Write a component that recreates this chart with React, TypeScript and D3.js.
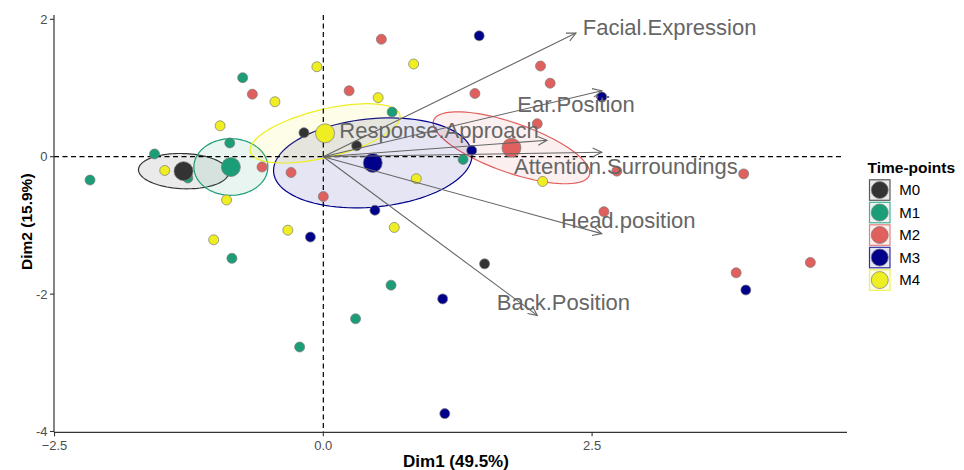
import React from 'react';
import * as d3 from 'd3';

// groups and colours
const groups = ['M0', 'M1', 'M2', 'M3', 'M4'];
const groupColors = ['#333333', '#1B9E77', '#E0605E', '#00008B', '#EEEE22'];

// individual points per group, [Dim1, Dim2]
const m0Points: [number, number][] = [
  [-0.18, 0.35], [0.31, 0.16], [1.5, -1.56],
];
const m1Points: [number, number][] = [
  [-0.75, 1.15], [-0.87, 0.2], [-1.57, 0.04], [-1.26, -0.31], [-2.17, -0.34],
  [0.64, 0.65], [1.3, -0.04], [-0.85, -1.48], [0.63, -1.87], [0.3, -2.36], [-0.22, -2.77],
];
const m2Points: [number, number][] = [
  [-0.66, 0.91], [0.54, 1.71], [0.24, 0.96], [2.02, 1.32], [2.11, 1.07], [1.41, 0.92],
  [1.99, 0.48], [-0.57, -0.15], [-0.3, -0.23], [0.0, -0.58], [2.73, -0.21], [2.61, -0.8],
  [3.91, -0.25], [3.84, -1.69], [4.53, -1.54],
];
const m3Points: [number, number][] = [
  [1.45, 1.76], [2.59, 0.87], [1.38, 0.09], [0.48, -0.78], [-0.12, -1.17],
  [1.11, -2.07], [1.13, -3.74], [3.93, -1.94],
];
const m4Points: [number, number][] = [
  [-0.06, 1.31], [0.84, 1.35], [-0.45, 0.8], [0.51, 0.86], [-0.96, 0.45], [-1.475, -0.2],
  [-0.9, -0.63], [0.865, -0.32], [2.04, -0.36], [0.66, -1.03], [-0.33, -1.07], [-1.02, -1.21],
];
const groupPoints = [m0Points, m1Points, m2Points, m3Points, m4Points];

// group means (also ellipse centres)
const centroidX = [-1.3, -0.86, 1.75, 0.46, 0.016];
const centroidY = [-0.21, -0.15, 0.13, -0.09, 0.34];

// confidence ellipses: half extents along Dim1 / Dim2 and correlation
const ellipseSx = [0.419, 0.344, 0.728, 0.923, 0.698];
const ellipseSy = [0.257, 0.412, 0.524, 0.655, 0.432];
const ellipseR = [-0.08, 0.0, -0.69, 0.17, 0.56];

// variable arrows
const varNames = ['Facial.Expression', 'Ear.Position', 'Response.Approach', 'Attention.Surroundings', 'Head.position', 'Back.Position'];
const varX = [2.35, 2.59, 2.08, 2.59, 2.59, 1.99];
const varY = [1.8, 0.96, 0.24, 0.065, -1.12, -2.31];
const labelX = [2.413, 1.805, 0.149, 1.774, 2.211, 1.613];
const labelY = [1.771, 0.655, 0.268, -0.252, -1.04, -2.23];

const xTicks = [-2.5, 0, 2.5];
const yTicks = [-4, -2, 0, 2];

const W = 964;
const H = 470;
const left = 54;
const right = 847;
const top = 15;
const bottom = 432.3;

const font = 'Liberation Sans, Arial, sans-serif';

export default function App() {
  const x = d3.scaleLinear().domain([-2.505, 4.871]).range([left, right]);
  const y = d3.scaleLinear().domain([-4.012, 2.063]).range([bottom, top]);

  const ellipsePath = (i: number) => {
    const pts: [number, number][] = d3.range(0, 100).map((k) => {
      const t = (k / 100) * 2 * Math.PI;
      const r = ellipseR[i];
      const ex = centroidX[i] + ellipseSx[i] * Math.cos(t);
      const ey = centroidY[i] + ellipseSy[i] * (r * Math.cos(t) + Math.sqrt(1 - r * r) * Math.sin(t));
      return [x(ex), y(ey)];
    });
    return d3.line().curve(d3.curveLinearClosed)(pts) || '';
  };

  const arrowHead = (i: number) => {
    const x0 = x(0), y0 = y(0);
    const x1 = x(varX[i]), y1 = y(varY[i]);
    const a = Math.atan2(y1 - y0, x1 - x0);
    const len = 10;
    const sp = Math.PI / 7;
    return `M${x1 - len * Math.cos(a - sp)},${y1 - len * Math.sin(a - sp)}L${x1},${y1}L${x1 - len * Math.cos(a + sp)},${y1 - len * Math.sin(a + sp)}`;
  };

  const legendX = 869;
  const legendY = 179.3;
  const legendStep = 22.5;

  return (
    <svg width={W} height={H} style={{ position: 'absolute', left: 0, top: 0, background: '#fff' }} fontFamily={font}>
      {/* ellipses */}
      {groups.map((g, i) => (
        <path key={'e' + g} d={ellipsePath(i)} fill={groupColors[i]} fillOpacity={0.1}
          stroke={groupColors[i]} strokeWidth={1.2} />
      ))}

      {/* reference lines */}
      <line x1={left} x2={right - 5} y1={y(0)} y2={y(0)} stroke="#000" strokeWidth={1.2} strokeDasharray="5,3.5" />
      <line x1={x(0)} x2={x(0)} y1={top} y2={bottom} stroke="#000" strokeWidth={1.2} strokeDasharray="5,3.5" />

      {/* individuals */}
      {groupPoints.map((pts, i) =>
        pts.map((p, j) => (
          <circle key={`p${i}-${j}`} cx={x(p[0])} cy={y(p[1])} r={5}
            fill={groupColors[i]} stroke="#7a7a7a" strokeWidth={0.7} />
        ))
      )}

      {/* group means */}
      {groups.map((g, i) => (
        <circle key={'c' + g} cx={x(centroidX[i])} cy={y(centroidY[i])} r={9.5}
          fill={groupColors[i]} stroke="#7a7a7a" strokeWidth={0.7} />
      ))}

      {/* variable arrows */}
      {varNames.map((v, i) => (
        <g key={'v' + v} stroke="#666666" strokeWidth={1.1} fill="none">
          <line x1={x(0)} y1={y(0)} x2={x(varX[i])} y2={y(varY[i])} />
          <path d={arrowHead(i)} />
        </g>
      ))}
      {varNames.map((v, i) => (
        <text key={'l' + v} x={x(labelX[i])} y={y(labelY[i])} fontSize={22} fill="#666666">{v}</text>
      ))}

      {/* axes */}
      <line x1={left} x2={left} y1={top} y2={bottom} stroke="#333" strokeWidth={1.2} />
      <line x1={left} x2={right} y1={bottom} y2={bottom} stroke="#333" strokeWidth={1.2} />
      {yTicks.map((t) => (
        <g key={'yt' + t}>
          <line x1={left - 4} x2={left} y1={y(t)} y2={y(t)} stroke="#333" strokeWidth={1.1} />
          <text x={left - 6.5} y={y(t)} dy="0.35em" textAnchor="end" fontSize={13} fill="#4d4d4d">{t}</text>
        </g>
      ))}
      {xTicks.map((t) => (
        <g key={'xt' + t}>
          <line x1={x(t)} x2={x(t)} y1={bottom} y2={bottom + 4} stroke="#333" strokeWidth={1.1} />
          <text x={x(t)} y={bottom + 18} textAnchor="middle" fontSize={13} fill="#4d4d4d">{d3.format('.1f')(t)}</text>
        </g>
      ))}
      <text x={456} y={470 - 3} textAnchor="middle" fontSize={17} fontWeight="bold" fill="#000">Dim1 (49.5%)</text>
      <text transform={`translate(31.5,${221.7}) rotate(-90)`} textAnchor="middle" fontSize={15.5} fontWeight="bold" fill="#000">Dim2 (15.9%)</text>

      {/* legend */}
      <text x={867.5} y={167.3} dy="0.35em" fontSize={15.5} fontWeight="bold" fill="#000">Time-points</text>
      {groups.map((g, i) => (
        <g key={'lg' + g} transform={`translate(${legendX},${legendY + i * legendStep})`}>
          <rect x={0.5} y={0.5} width={20.5} height={20.5} fill={groupColors[i]} fillOpacity={0.1}
            stroke={groupColors[i]} strokeOpacity={0.8} strokeWidth={1.2} />
          <circle cx={10.75} cy={10.75} r={8.5} fill={groupColors[i]} stroke="#7a7a7a" strokeWidth={0.7} />
          <text x={30.3} y={10.75} dy="0.35em" fontSize={15} fill="#000">{g}</text>
        </g>
      ))}
    </svg>
  );
}
